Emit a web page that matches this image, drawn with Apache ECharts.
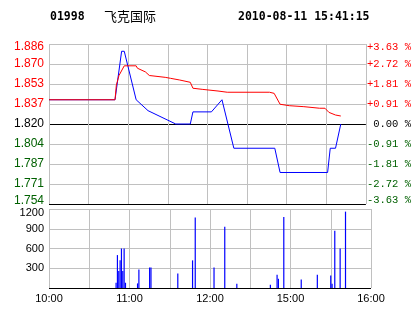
<!DOCTYPE html>
<html>
<head>
<meta charset="utf-8">
<script src="https://cdn.jsdelivr.net/npm/echarts@6/dist/echarts.min.js"></script>
<style>
html,body{margin:0;padding:0;background:#fff;}
#chart{width:414px;height:314px;}
</style>
</head>
<body>
<div id="chart"></div>
<script>
// ---- data (minutes since 10:00 trading session start; session = 240 min) ----
var stockCode = '01998';
var stockName = '飞克国际';
var stampText = '2010-08-11 15:41:15';
var basePrice = 1.82; // previous close
var timeTickLabels = ['10:00', '11:00', '12:00', '15:00', '16:00'];

var priceTimes  = [0, 50, 55, 57, 66, 67, 75, 76, 96, 107, 109, 123, 131, 140, 171, 175, 211, 213, 217, 221];
var priceValues = [1.84, 1.84, 1.88, 1.88, 1.84, 1.84, 1.831, 1.83, 1.82, 1.82, 1.83, 1.83, 1.84, 1.80, 1.80, 1.78, 1.78, 1.80, 1.80, 1.82];

var avgTimes  = [0, 50, 51, 53, 57, 66, 67, 73, 76, 88, 92, 99, 107, 109, 116, 128, 135, 167, 170.5, 175, 182, 193, 205, 209, 212, 217, 221];
var avgValues = [1.840, 1.840, 1.852, 1.860, 1.868, 1.868, 1.866, 1.863, 1.860, 1.8585, 1.8577, 1.8563, 1.8544, 1.8495, 1.8486, 1.8472, 1.8462, 1.8462, 1.8453, 1.8363, 1.8351, 1.8343, 1.833, 1.833, 1.8296, 1.8274, 1.8266];

var volTimes  = [50, 51, 52, 53, 54, 55, 56, 57, 66, 67, 75, 76, 96, 107, 109, 123, 131, 140, 165, 170, 171, 175, 188, 200, 210, 211, 213, 217, 221];
var volValues = [80, 500, 260, 420, 600, 260, 600, 80, 70, 280, 310, 310, 220, 420, 1070, 310, 930, 65, 50, 200, 140, 1080, 130, 200, 190, 65, 870, 600, 1160];

// ---- build ----
var baseMilli = basePrice * 1000;
function toOffset(p) { return p * 1000 - baseMilli; } // price offset in thousandths
function pairs(ts, vs, f) { return ts.map(function (t, i) { return [t, f ? f(vs[i]) : vs[i]]; }); }

var GRID_C = '#c0c0c0';
var GREEN = '#006000';
var priceSplitColors = ['#000000', GRID_C, GRID_C, GRID_C, '#000000', GRID_C, GRID_C, GRID_C, GRID_C];
var volSplitColors = ['#000000', GRID_C, GRID_C, GRID_C, GRID_C];

function richSet(font, size, shift) {
  var base = {fontFamily: font, fontSize: size};
  function mk(color, pad) { return Object.assign({color: color, padding: pad}, base); }
  return {
    up: mk('#ff0000', [0, 0, 0, 0]),
    zero: mk('#000000', [0, 0, 0, 0]),
    dn: mk(GREEN, [0, 0, 0, 0]),
    upTop: mk('#ff0000', [shift, 0, 0, 0]),
    dnBot: mk(GREEN, [0, 0, shift, 0])
  };
}
function styleKey(v) {
  if (v >= 66 - 1e-6) return 'upTop';
  if (v <= -66 + 1e-6) return 'dnBot';
  if (v > 1e-6) return 'up';
  if (v < -1e-6) return 'dn';
  return 'zero';
}

var chart = echarts.init(document.getElementById('chart'), null, {renderer: 'canvas'});
chart.setOption({
  animation: false,
  backgroundColor: '#ffffff',
  graphic: [
    {type: 'text', x: 50, y: 17, style: {text: stockCode, font: 'bold 11.5px "DejaVu Sans Mono"', fill: '#000', verticalAlign: 'middle', align: 'left'}},
    {type: 'text', x: 104, y: 16, style: {text: stockName, font: '13px "Noto Sans CJK SC"', fill: '#000', verticalAlign: 'middle', align: 'left'}},
    {type: 'text', x: 238, y: 17, style: {text: stampText, font: 'bold 11.5px "DejaVu Sans Mono"', fill: '#000', verticalAlign: 'middle', align: 'left'}}
  ],
  grid: [
    {left: 49, top: 44, width: 322, height: 160, show: false},
    {left: 49, top: 209, width: 322, height: 79, show: false}
  ],
  xAxis: [
    {type: 'value', gridIndex: 0, min: 0, max: 240, interval: 30,
     axisLine: {show: false}, axisTick: {show: false}, axisLabel: {show: false},
     splitLine: {show: true, lineStyle: {color: GRID_C, width: 1}}},
    {type: 'value', gridIndex: 1, min: 0, max: 240, interval: 30,
     axisLine: {show: false}, axisTick: {show: false},
     axisLabel: {show: true, margin: 5, color: '#000', fontFamily: 'Liberation Sans', fontSize: 11,
       formatter: function (v) { return (v % 60 === 0) ? timeTickLabels[v / 60] : ''; }},
     splitLine: {show: true, lineStyle: {color: GRID_C, width: 1}}}
  ],
  yAxis: [
    {type: 'value', gridIndex: 0, min: -66, max: 66, interval: 16.5, position: 'left',
     axisLine: {show: false}, axisTick: {show: false},
     axisLabel: {show: true, margin: 5,
       formatter: function (v) {
         var p = (Math.round(baseMilli + v) / 1000).toFixed(3);
         return '{' + styleKey(v) + '|' + p + '}';
       },
       rich: richSet('Liberation Sans', 12, 6)},
     splitLine: {show: true, lineStyle: {color: priceSplitColors, width: 1}}},
    {type: 'value', gridIndex: 0, min: -66, max: 66, interval: 16.5, position: 'right',
     axisLine: {show: false}, axisTick: {show: false},
     axisLabel: {show: true, margin: 1,
       formatter: function (v) {
         var pct = Math.abs(v / baseMilli * 100).toFixed(2);
         var sign = v > 1e-6 ? '+' : (v < -1e-6 ? '-' : ' ');
         return '{' + styleKey(v) + '|' + sign + pct + ' %}';
       },
       rich: richSet('Liberation Mono', 10.5, 7)},
     splitLine: {show: false}},
    {type: 'value', gridIndex: 1, min: 0, max: 1200, interval: 300, position: 'left',
     axisLine: {show: false}, axisTick: {show: false},
     axisLabel: {show: true, margin: 5,
       formatter: function (v) {
         if (v === 0) return '';
         if (v === 1200) return '{t|' + v + '}';
         return '{n|' + v + '}';
       },
       rich: {
         t: {fontFamily: 'Liberation Sans', fontSize: 11, color: '#000', padding: [8, 0, 0, 0]},
         n: {fontFamily: 'Liberation Sans', fontSize: 11, color: '#000'}
       }},
     splitLine: {show: true, lineStyle: {color: volSplitColors, width: 1}}}
  ],
  series: [
    {name: 'price', type: 'line', xAxisIndex: 0, yAxisIndex: 0, symbol: 'none',
     lineStyle: {color: '#0000ff', width: 1}, itemStyle: {color: '#0000ff'},
     data: pairs(priceTimes, priceValues, toOffset), z: 3},
    {name: 'avg', type: 'line', xAxisIndex: 0, yAxisIndex: 0, symbol: 'none',
     lineStyle: {color: '#ff0000', width: 1}, itemStyle: {color: '#ff0000'},
     data: pairs(avgTimes, avgValues, toOffset), z: 4},
    {name: 'volume', type: 'bar', xAxisIndex: 1, yAxisIndex: 2, barWidth: 1.2,
     itemStyle: {color: '#0000ff'},
     data: pairs(volTimes, volValues)}
  ]
});
</script>
</body>
</html>
